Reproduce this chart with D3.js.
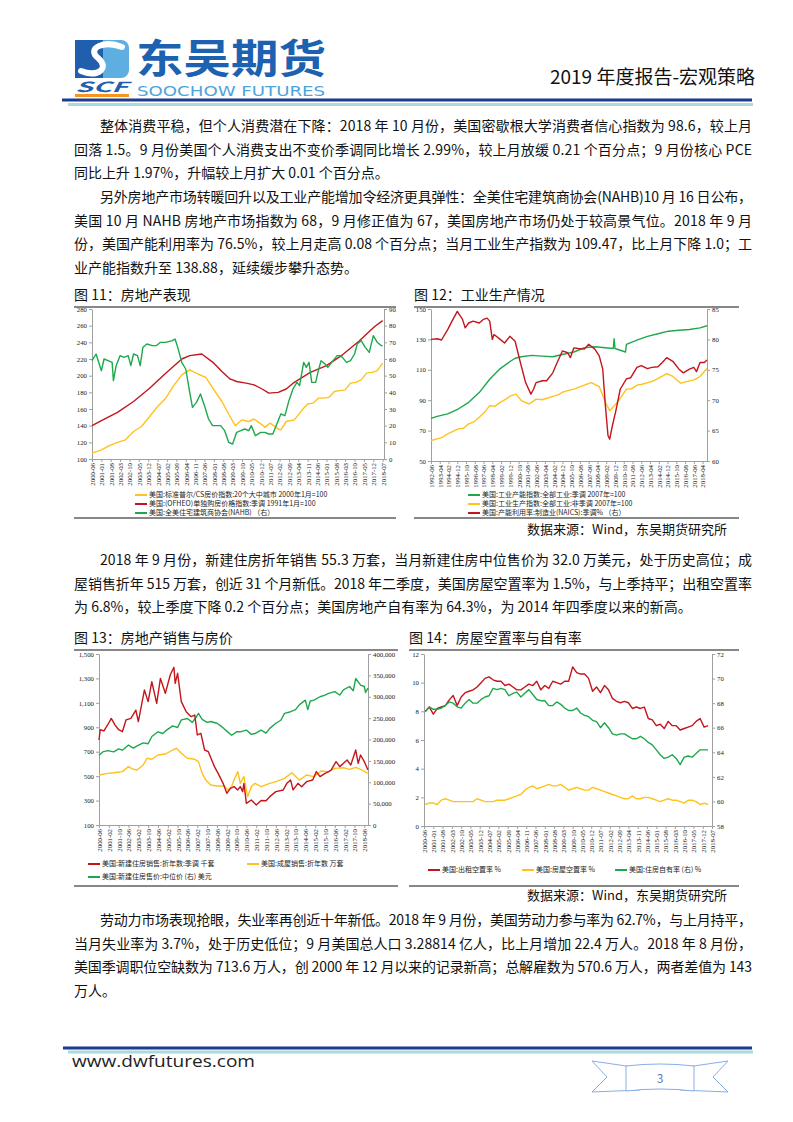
<!DOCTYPE html>
<html>
<head>
<meta charset="utf-8">
<script src="https://cdn.jsdelivr.net/npm/d3@7"></script>
<style>
  body { margin: 0; background: #fff; }
  svg { display: block; }
  text { font-family: "Noto Sans CJK SC", "Noto Sans", sans-serif; }
</style>
</head>
<body>
<svg id="page" width="793" height="1122"></svg>
<script>
// ── Text ─────────────────────────────────────────────────────────────────────

const para1 = [
  "整体消费平稳，但个人消费潜在下降：2018 年 10 月份，美国密歇根大学消费者信心指数为 98.6，较上月",
  "回落 1.5。9 月份美国个人消费支出不变价季调同比增长 2.99%，较上月放缓 0.21 个百分点；9 月份核心 PCE",
  "同比上升 1.97%，升幅较上月扩大 0.01 个百分点。",
];
const para2 = [
  "另外房地产市场转暖回升以及工业产能增加令经济更具弹性：全美住宅建筑商协会(NAHB)10 月 16 日公布，",
  "美国 10 月 NAHB 房地产市场指数为 68，9 月修正值为 67，美国房地产市场仍处于较高景气位。2018 年 9 月",
  "份，美国产能利用率为 76.5%，较上月走高 0.08 个百分点；当月工业生产指数为 109.47，比上月下降 1.0；工",
  "业产能指数升至 138.88，延续缓步攀升态势。",
];
const para3 = [
  "2018 年 9 月份，新建住房折年销售 55.3 万套，当月新建住房中位售价为 32.0 万美元，处于历史高位；成",
  "屋销售折年 515 万套，创近 31 个月新低。2018 年二季度，美国房屋空置率为 1.5%，与上季持平；出租空置率",
  "为 6.8%，较上季度下降 0.2 个百分点；美国房地产自有率为 64.3%，为 2014 年四季度以来的新高。",
];
const para4 = [
  "劳动力市场表现抢眼，失业率再创近十年新低。2018 年 9 月份，美国劳动力参与率为 62.7%，与上月持平，",
  "当月失业率为 3.7%，处于历史低位；9 月美国总人口 3.28814 亿人，比上月增加 22.4 万人。2018 年 8 月份，",
  "美国季调职位空缺数为 713.6 万人，创 2000 年 12 月以来的记录新高；总解雇数为 570.6 万人，两者差值为 143",
  "万人。",
];

// ── Figure 11: 房地产表现 ─────────────────────────────────────────────────────

const fig11Ticks = ["2000-06","2001-01","2001-08","2002-03","2002-10","2003-05","2003-12","2004-07","2005-02","2005-09","2006-04","2006-11","2007-06","2008-01","2008-08","2009-03","2009-10","2010-05","2010-12","2011-07","2012-02","2012-09","2013-04","2013-11","2014-06","2015-01","2015-08","2016-03","2016-10","2017-05","2017-12","2018-07"];
const fig11LeftTicks = [100, 120, 140, 160, 180, 200, 220, 240, 260, 280];
const fig11RightTicks = [0, 10, 20, 30, 40, 50, 60, 70, 80, 90];
const fig11Legend = [
  "美国:标准普尔/CS房价指数:20个大中城市 2000年1月=100",
  "美国:(OFHEO)单独购房价格指数:季调 1991年1月=100",
  "美国:全美住宅建筑商协会(NAHB) （右）",
];
const csIndex = [["2000-06",107],["2001-01",111],["2001-07",116],["2002-01",120],["2002-07",123],["2003-01",133],["2003-07",139],["2004-01",151],["2004-07",163],["2005-01",173],["2005-07",188],["2006-01",201],["2006-07",207],["2007-01",202],["2007-07",198],["2008-01",183],["2008-07",169],["2009-01",151],["2009-05",140],["2009-10",147],["2010-03",145],["2010-07",148],["2011-01",141],["2011-03",138],["2011-07",143],["2012-01",136],["2012-03",135],["2012-07",145],["2013-01",147],["2013-07",159],["2013-11",166],["2014-03",167],["2014-07",173],["2014-11",173],["2015-03",174],["2015-07",181],["2015-11",182],["2016-03",183],["2016-07",191],["2016-11",192],["2017-03",195],["2017-07",203],["2017-11",204],["2018-03",206],["2018-07",215]];
const ofheoIndex = [["2000-06",140],["2001-01",146],["2002-01",156],["2003-01",169],["2004-01",185],["2005-01",203],["2006-01",220],["2006-07",224],["2007-04",226],["2008-01",215],["2008-07",205],["2009-01",196],["2009-03",195],["2009-06",193],["2010-01",191],["2010-07",189],["2011-01",184],["2011-06",179],["2012-01",180],["2012-07",184],["2013-01",192],["2013-07",198],["2014-01",204],["2015-01",212],["2016-01",225],["2017-01",241],["2018-01",259],["2018-07",266]];
const nahbIndex = [["2000-06",59],["2000-09",63],["2001-01",53],["2001-03",60],["2001-06",59],["2001-09",58],["2001-10",47],["2001-12",56],["2002-03",62],["2002-06",61],["2002-09",62],["2002-11",56],["2003-01",63],["2003-04",62],["2003-06",56],["2003-08",67],["2003-11",69],["2004-03",68],["2004-06",68],["2004-09",70],["2005-01",70],["2005-06",71],["2005-08",72],["2005-10",67],["2006-01",58],["2006-04",54],["2006-07",40],["2006-09",31],["2006-12",34],["2007-03",39],["2007-06",32],["2007-09",24],["2007-12",20],["2008-03",20],["2008-06",20],["2008-09",17],["2008-12",10],["2009-03",9],["2009-06",16],["2009-09",17],["2009-12",18],["2010-03",17],["2010-05",20],["2010-08",14],["2010-12",16],["2011-03",16],["2011-06",15],["2011-09",15],["2011-12",21],["2012-03",27],["2012-06",26],["2012-09",35],["2012-12",42],["2013-03",46],["2013-05",44],["2013-08",58],["2013-10",55],["2013-12",58],["2014-02",46],["2014-05",46],["2014-07",53],["2014-09",59],["2014-12",57],["2015-02",55],["2015-06",59],["2015-09",62],["2015-11",62],["2016-01",61],["2016-04",58],["2016-07",59],["2016-10",63],["2016-12",69],["2017-03",71],["2017-06",67],["2017-09",64],["2017-12",74],["2018-03",70],["2018-06",68],["2018-07",68]];

// ── Figure 12: 工业生产情况 ───────────────────────────────────────────────────

const fig12Ticks = ["1992-06","1993-04","1994-02","1994-12","1995-10","1996-08","1997-06","1998-04","1999-02","1999-12","2000-10","2001-08","2002-06","2003-04","2004-02","2004-12","2005-10","2006-08","2007-06","2008-04","2009-02","2009-12","2010-10","2011-08","2012-06","2013-04","2014-02","2014-12","2015-10","2016-08","2017-06","2018-04"];
const fig12LeftTicks = [50, 70, 90, 110, 130, 150];
const fig12RightTicks = [60, 65, 70, 75, 80, 85];
const fig12Legend = [
  "美国:工业产能指数:全部工业:季调 2007年=100",
  "美国:工业生产指数:全部工业:非季调 2007年=100",
  "美国:产能利用率:制造业(NAICS):季调% （右）",
];
const capacityIndex = [["1992-06",78],["1993-01",79.4],["1994-01",81],["1995-01",84.2],["1996-01",88.6],["1997-01",95],["1998-01",103.8],["1999-01",110.8],["2000-01",115.8],["2000-07",117.8],["2001-01",118.6],["2002-01",119.5],["2003-01",119],["2004-01",118.6],["2005-01",120.2],["2006-01",121.7],["2007-01",124.5],["2008-01",125.2],["2009-01",124.5],["2009-10",124],["2009-11",130.4],["2009-12",124],["2010-12",121.7],["2011-01",126.7],["2012-01",129.5],["2013-01",132],["2014-01",133.7],["2015-01",135.4],["2016-01",136],["2017-01",136.5],["2018-01",137.6],["2018-09",139]];
const ipNsaIndex = [["1992-06",63.5],["1993-01",64.6],["1993-07",65.5],["1994-01",67.9],["1994-07",69.5],["1995-01",71.1],["1995-07",71.5],["1996-01",74.4],["1996-07",75.8],["1997-01",78.8],["1997-07",82],["1998-01",86.4],["1998-07",86],["1999-01",88.6],["1999-07",90.5],["2000-01",92.9],["2000-07",94],["2001-01",89.7],["2001-10",87.5],["2002-06",90.7],["2003-01",90.3],["2004-01",92.5],["2004-07",93.5],["2005-01",95.5],["2005-07",96.5],["2006-01",97.3],["2007-01",99.9],["2007-09",101.6],["2008-06",99],["2009-01",88.6],["2009-06",83.1],["2010-01",87.5],["2010-07",92],["2011-01",97.3],["2011-07",97.5],["2012-01",99.9],["2012-07",100.5],["2013-01",101.6],["2013-07",102.5],["2014-01",104.2],["2014-11",107.5],["2015-06",105.6],["2016-03",101.2],["2017-01",102.7],["2017-07",103.5],["2018-01",105.6],["2018-09",110.8]];
const capUtilMfg = [["1992-06",80],["1993-01",80.1],["1993-06",79.9],["1994-01",81.6],["1994-06",83],["1994-12",84.6],["1995-06",83.3],["1995-09",81.9],["1996-01",82.7],["1996-06",83],["1997-01",82.7],["1997-06",83.3],["1997-10",83.5],["1998-01",83],["1998-04",80],["1998-06",80.8],["1999-01",80],["1999-06",79.4],["1999-12",80.5],["2000-06",79.7],["2000-12",76.2],["2001-06",72.9],["2001-12",71],["2002-03",71.8],["2002-06",72.9],["2003-01",73.2],["2003-06",73.2],["2004-01",74.5],["2004-06",76.2],["2004-12",78.1],["2005-06",77.8],["2005-09",77],["2006-01",78.6],["2006-06",78.5],["2007-01",78.4],["2007-06",79.2],["2008-01",78.4],["2008-06",77.3],["2008-10",75.1],["2009-01",69.1],["2009-04",64.2],["2009-06",63.6],["2009-09",65.8],["2010-01",68.3],["2010-06",71.8],["2011-01",73.5],["2011-06",73.7],["2012-01",75.4],["2012-06",75.7],["2013-01",75.2],["2013-06",75.4],["2014-01",75.5],["2014-06",76.2],["2014-11",77],["2015-06",76.4],["2016-01",75.1],["2016-06",74.5],["2017-01",75.1],["2017-06",75.4],["2017-09",74.7],["2018-01",76.2],["2018-06",76.2],["2018-09",76.6]];

// ── Figure 13: 房地产销售与房价 ───────────────────────────────────────────────

const fig13Ticks = ["2000-06","2001-02","2001-10","2002-06","2003-02","2003-10","2004-06","2005-02","2005-10","2006-06","2007-02","2007-10","2008-06","2009-02","2009-10","2010-06","2011-02","2011-10","2012-06","2013-02","2013-10","2014-06","2015-02","2015-10","2016-06","2017-02","2017-10","2018-06"];
const fig13LeftTicks = [100, 300, 500, 700, 900, 1100, 1300, 1500];
const fig13RightTicks = [0, 50000, 100000, 150000, 200000, 250000, 300000, 350000, 400000];
const fig13Legend = [
  "美国:新建住房销售:折年数:季调 千套",
  "美国:成屋销售:折年数 万套",
  "美国:新建住房售价:中位价 (右) 美元",
];
const newHomeSales = [["2000-06",796],["2000-07",880],["2000-10",870],["2001-01",919],["2001-04",973],["2001-07",920],["2001-10",880],["2002-01",864],["2002-04",960],["2002-08",973],["2002-12",1040],["2003-02",946],["2003-07",1205],["2003-10",1110],["2004-01",1273],["2004-05",1096],["2004-08",1300],["2004-12",1178],["2005-04",1328],["2005-07",1391],["2005-08",1260],["2005-10",1342],["2006-01",1110],["2006-05",1028],["2006-09",987],["2006-12",1000],["2007-02",837],["2007-05",850],["2007-08",714],["2007-11",700],["2008-04",578],["2008-07",523],["2008-11",441],["2009-02",359],["2009-05",400],["2009-08",414],["2009-11",387],["2010-01",414],["2010-03",373],["2010-04",441],["2010-06",277],["2010-10",305],["2011-02",264],["2011-06",300],["2011-10",299],["2012-01",332],["2012-06",373],["2012-12",387],["2013-03",441],["2013-06",468],["2013-08",387],["2013-12",441],["2014-03",414],["2014-07",455],["2014-12",468],["2015-03",537],["2015-06",496],["2015-10",523],["2016-01",537],["2016-03",550],["2016-07",619],["2016-10",578],["2017-01",605],["2017-04",632],["2017-07",591],["2017-11",714],["2018-01",605],["2018-03",673],["2018-06",619],["2018-09",550]];
const existingSales = [["2000-06",509],["2001-01",523],["2001-06",528],["2002-01",537],["2002-06",578],["2002-09",560],["2003-01",550],["2003-06",591],["2003-09",646],["2004-01",638],["2004-06",673],["2004-12",681],["2005-06",714],["2005-09",728],["2006-01",687],["2006-06",646],["2006-12",638],["2007-03",619],["2007-06",523],["2007-09",468],["2008-01",427],["2008-06",419],["2008-12",419],["2009-03",387],["2009-06",414],["2009-08",470],["2009-11",537],["2010-01",441],["2010-04",496],["2010-07",332],["2010-10",414],["2011-01",441],["2011-06",414],["2012-01",441],["2012-06",455],["2013-01",482],["2013-07",528],["2014-01",468],["2014-07",509],["2015-01",496],["2015-07",542],["2016-01",537],["2016-06",564],["2017-01",569],["2017-06",556],["2017-11",572],["2018-03",556],["2018-09",523]];
const newHomePrice = [["2000-06",163000],["2000-09",171000],["2001-01",174000],["2001-06",171000],["2001-10",178000],["2002-01",175000],["2002-06",187000],["2002-10",180000],["2003-01",185000],["2003-06",192000],["2003-10",190000],["2004-01",207000],["2004-06",218000],["2004-10",214000],["2005-01",222000],["2005-06",232000],["2005-10",228000],["2006-01",246000],["2006-06",249000],["2006-10",240000],["2007-01",252000],["2007-03",261000],["2007-06",247000],["2007-10",240000],["2008-01",242000],["2008-06",238000],["2008-10",230000],["2009-01",222000],["2009-06",210000],["2009-10",218000],["2010-01",218000],["2010-06",222000],["2010-10",212000],["2011-01",214000],["2011-06",222000],["2011-10",215000],["2012-01",226000],["2012-06",238000],["2012-10",245000],["2013-01",261000],["2013-06",265000],["2013-10",270000],["2014-01",281000],["2014-06",292000],["2014-08",270000],["2014-10",290000],["2015-01",292000],["2015-06",300000],["2015-10",304000],["2016-01",308000],["2016-06",312000],["2016-10",304000],["2017-01",316000],["2017-06",324000],["2017-09",314000],["2017-11",343000],["2018-03",327000],["2018-06",324000],["2018-07",310000],["2018-09",320000]];

// ── Figure 14: 房屋空置率与自有率 (quarterly, 2000Q2 - 2018Q2) ───────────────

const fig14Ticks = fig11Ticks;
const fig14LeftTicks = [0, 2, 4, 6, 8, 10, 12];
const fig14RightTicks = [58, 60, 62, 64, 66, 68, 70, 72];
const fig14Legend = ["美国:出租空置率 %", "美国:房屋空置率 %", "美国:住房自有率 (右) %"];
const rentalVacancy = [8.0,8.3,7.8,8.2,8.3,8.4,8.8,9.1,8.4,9.0,9.3,9.4,9.5,9.7,10.0,10.3,10.4,10.2,10.1,10.1,9.8,9.9,9.7,9.5,9.5,9.7,9.9,9.8,10.1,9.5,9.8,9.6,10.1,10.0,9.9,10.1,10.1,11.1,10.7,10.6,10.6,10.3,9.4,9.7,9.3,9.8,9.5,8.9,8.7,8.6,8.7,8.6,8.2,8.3,8.2,8.3,7.5,7.4,7.0,7.1,6.8,7.3,7.0,7.0,6.7,6.8,6.9,7.0,7.3,7.5,6.9,7.0,6.8];
const homeVacancy = [1.5,1.6,1.6,1.5,1.8,1.9,1.8,1.7,1.7,1.7,1.7,1.7,1.7,1.9,1.8,1.7,1.7,1.7,1.8,1.8,1.8,1.9,2.0,2.1,2.2,2.5,2.7,2.8,2.6,2.7,2.8,2.9,2.8,2.8,2.9,2.7,2.5,2.6,2.7,2.6,2.5,2.5,2.7,2.6,2.5,2.4,2.3,2.2,2.1,2.0,1.9,1.9,2.1,1.9,1.9,2.0,2.0,1.9,1.8,1.7,1.8,1.9,1.8,1.8,1.7,1.6,1.8,1.8,1.7,1.5,1.6,1.5,1.5];
const homeOwnership = [67.3,67.7,67.5,67.5,67.6,67.8,68.1,68.0,67.7,67.6,68.0,68.3,68.0,68.0,68.3,68.5,68.6,69.2,69.1,69.2,69.1,68.6,68.8,68.9,68.5,68.8,69.1,68.7,68.3,68.2,68.2,67.8,67.8,68.1,67.9,67.6,67.4,67.4,67.6,67.2,67.0,66.9,66.6,66.5,66.0,66.4,66.0,65.5,65.4,65.5,65.5,65.3,65.1,65.1,65.3,65.1,64.8,64.6,64.2,63.8,63.5,63.6,63.8,63.5,63.0,63.6,63.7,63.6,63.9,64.2,64.2,64.2,64.3];

// ── Setup ────────────────────────────────────────────────────────────────────

const RED = "#c3161c";
const YELLOW = "#ffc21a";
const GREEN = "#1ea84c";
const NAVY = "#1d3b8f";
const TEAL = "#a9dbd8";

const svg = d3.select("#page");
const parseMonth = d3.timeParse("%Y-%m");
const monthFmt = d3.timeFormat("%Y-%m");

// ── Header ───────────────────────────────────────────────────────────────────

function drawHeader() {
  const logo = svg.append("g");
  logo.append("rect").attr("x", 75).attr("y", 40).attr("width", 28).attr("height", 38).attr("fill", "#1f5fae");
  logo.append("path").attr("d", "M103,40 h18 a8,8 0 0 1 8,8 v22 a8,8 0 0 1 -8,8 h-18 z").attr("fill", "#5eaee2");
  logo.append("path")
    .attr("d", "M122,47 C104,40 86,48 98,58 C110,68 98,78 81,71")
    .attr("fill", "none").attr("stroke", "#fff").attr("stroke-width", 6).attr("stroke-linecap", "round");
  logo.append("text").attr("x", 75).attr("y", 92).attr("textLength", 53).attr("lengthAdjust", "spacingAndGlyphs")
    .attr("font-size", 14).attr("font-weight", 700).attr("font-style", "italic").attr("fill", "#1f5fae").text("SCF");
  logo.append("rect").attr("x", 75).attr("y", 94).attr("width", 54).attr("height", 3).attr("fill", "#f7941d");

  svg.append("text").attr("x", 136).attr("y", 73).attr("textLength", 190).attr("lengthAdjust", "spacingAndGlyphs")
    .attr("font-size", 40).attr("font-weight", 700).attr("fill", "#1d62b0").text("东吴期货");
  svg.append("text").attr("x", 137).attr("y", 96).attr("textLength", 188).attr("lengthAdjust", "spacingAndGlyphs")
    .attr("font-size", 14).attr("fill", "#4ea4dc").style("font-family", "'DejaVu Sans Condensed', 'Liberation Sans Narrow', sans-serif")
    .text("SOOCHOW FUTURES");

  svg.append("text").attr("x", 755).attr("y", 84).attr("text-anchor", "end")
    .attr("font-size", 19).attr("fill", "#111").text("2019 年度报告-宏观策略");

  svg.append("line").attr("x1", 62).attr("x2", 752).attr("y1", 100).attr("y2", 100).attr("stroke", NAVY).attr("stroke-width", 3);
  svg.append("line").attr("x1", 68).attr("x2", 753).attr("y1", 104.5).attr("y2", 104.5).attr("stroke", TEAL).attr("stroke-width", 3);
}

// ── Footer ───────────────────────────────────────────────────────────────────

function drawFooter() {
  svg.append("line").attr("x1", 63).attr("x2", 752).attr("y1", 1048).attr("y2", 1048).attr("stroke", NAVY).attr("stroke-width", 3);
  svg.append("line").attr("x1", 68).attr("x2", 753).attr("y1", 1052).attr("y2", 1052).attr("stroke", TEAL).attr("stroke-width", 3);
  svg.append("text").attr("x", 72).attr("y", 1067).attr("textLength", 183).attr("lengthAdjust", "spacingAndGlyphs")
    .attr("font-size", 17).attr("fill", "#222").style("font-family", "'Open Sans', sans-serif").text("www.dwfutures.com");

  const rib = svg.append("g").attr("fill", "#fff").attr("stroke", "#86aee6").attr("stroke-width", 1);
  rib.append("path").attr("d", "M592,1061 L640,1068 L640,1090 L592,1092 L607,1077 Z");
  rib.append("path").attr("d", "M728,1061 L680,1068 L680,1090 L728,1092 L713,1077 Z");
  rib.append("path").attr("d", "M626,1066 Q660,1062 694,1066 L694,1091 Q660,1087 626,1091 Z");
  svg.append("text").attr("x", 660).attr("y", 1083).attr("text-anchor", "middle")
    .attr("font-size", 12).attr("fill", "#5a7db5").text("3");
}

// ── Paragraphs ───────────────────────────────────────────────────────────────

function drawParagraph(lines, y0) {
  const lineGap = 23.7;
  lines.forEach((line, i) => {
    const isFirst = i === 0;
    const isLast = i === lines.length - 1;
    const x = isFirst ? 100 : 74;
    const t = svg.append("text").attr("x", x).attr("y", y0 + i * lineGap)
      .attr("font-size", 14).attr("fill", "#111").text(line);
    if (!isLast) t.attr("textLength", 752 - x).attr("lengthAdjust", "spacing");
  });
}

// ── Figure frames ────────────────────────────────────────────────────────────

function drawFrame(title, x1, x2, titleY, bottomY) {
  svg.append("text").attr("x", x1).attr("y", titleY).attr("font-size", 14).attr("fill", "#111").text(title);
  svg.append("line").attr("x1", x1).attr("x2", x2).attr("y1", titleY + 7).attr("y2", titleY + 7).attr("stroke", "#111").attr("stroke-width", 1.2);
  svg.append("line").attr("x1", x1).attr("x2", x2).attr("y1", bottomY).attr("y2", bottomY).attr("stroke", "#111").attr("stroke-width", 1.2);
}

function drawSource(y) {
  svg.append("text").attr("x", 727).attr("y", y).attr("text-anchor", "end")
    .attr("font-size", 13).attr("fill", "#111").text("数据来源：Wind，东吴期货研究所");
}

// ── Line chart ───────────────────────────────────────────────────────────────

function drawLineChart(cfg) {
  const g = svg.append("g");
  const x = d3.scaleTime().domain([parseMonth(cfg.xStart), parseMonth(cfg.xEnd)]).range([cfg.left, cfg.right]);
  const yL = d3.scaleLinear().domain(cfg.yLeft).range([cfg.bottom, cfg.top]);
  const yR = d3.scaleLinear().domain(cfg.yRight).range([cfg.bottom, cfg.top]);

  g.append("g").attr("transform", `translate(${cfg.left},0)`)
    .call(d3.axisLeft(yL).tickValues(cfg.leftTicks).tickFormat(cfg.fmtL).tickSize(3).tickSizeOuter(0).tickPadding(2));
  g.append("g").attr("transform", `translate(${cfg.right},0)`)
    .call(d3.axisRight(yR).tickValues(cfg.rightTicks).tickFormat(cfg.fmtR).tickSize(3).tickSizeOuter(0).tickPadding(2));
  const xAxis = g.append("g").attr("transform", `translate(0,${cfg.bottom})`)
    .call(d3.axisBottom(x).tickValues(cfg.xTicks.map(parseMonth)).tickFormat(monthFmt).tickSize(3).tickSizeOuter(0));
  xAxis.selectAll("text")
    .attr("transform", "rotate(-90)").attr("x", -4).attr("y", 0).attr("dy", "0.35em")
    .style("text-anchor", "end");

  g.selectAll(".domain, .tick line").attr("stroke", "#a0a0a0");
  g.selectAll(".tick text").attr("fill", "#222")
    .style("font-family", "'Liberation Serif', serif").style("font-size", "6.8px");

  // series
  for (const s of cfg.series) {
    const y = s.axis === "right" ? yR : yL;
    const line = d3.line()
      .x((d) => x(d[0]))
      .y((d) => y(d[1]));
    g.append("path")
      .datum(s.data)
      .attr("fill", "none")
      .attr("stroke", s.color)
      .attr("stroke-width", 1.4)
      .attr("stroke-linejoin", "round")
      .attr("d", line);
  }

  // legend
  for (const item of cfg.legend) {
    g.append("line").attr("x1", item.x).attr("x2", item.x + 12).attr("y1", item.y).attr("y2", item.y)
      .attr("stroke", item.color).attr("stroke-width", 2);
    g.append("text").attr("x", item.x + 14).attr("y", item.y).attr("dy", "0.35em")
      .attr("font-size", 7).attr("fill", "#222").text(item.label);
  }
}

const monthly = (arr) => arr.map((d) => [parseMonth(d[0]), d[1]]);
const fig14Quarters = d3.timeMonth.every(3).range(new Date(2000, 5, 1), new Date(2018, 6, 1));
const quarterly = (vals) => vals.map((v, i) => [fig14Quarters[i], v]);

// ── Render ───────────────────────────────────────────────────────────────────

drawHeader();
drawParagraph(para1, 131);
drawParagraph(para2, 202);

drawFrame("图 11：房地产表现", 74, 396, 300, 518);
drawFrame("图 12：工业生产情况", 414, 739, 300, 518);

drawLineChart({
  left: 92, right: 384, top: 309, bottom: 459,
  xStart: "2000-06", xEnd: "2018-08", xTicks: fig11Ticks,
  yLeft: [100, 280], leftTicks: fig11LeftTicks, fmtL: d3.format("d"),
  yRight: [0, 90], rightTicks: fig11RightTicks, fmtR: d3.format("d"),
  series: [
    { data: monthly(csIndex), axis: "left", color: YELLOW },
    { data: monthly(ofheoIndex), axis: "left", color: RED },
    { data: monthly(nahbIndex), axis: "right", color: GREEN },
  ],
  legend: [
    { label: fig11Legend[0], color: YELLOW, x: 135, y: 495 },
    { label: fig11Legend[1], color: RED, x: 135, y: 504 },
    { label: fig11Legend[2], color: GREEN, x: 135, y: 513 },
  ],
});

drawLineChart({
  left: 431, right: 707, top: 309, bottom: 461,
  xStart: "1992-06", xEnd: "2018-09", xTicks: fig12Ticks,
  yLeft: [50, 150], leftTicks: fig12LeftTicks, fmtL: d3.format("d"),
  yRight: [60, 85], rightTicks: fig12RightTicks, fmtR: d3.format("d"),
  series: [
    { data: monthly(capacityIndex), axis: "left", color: GREEN },
    { data: monthly(ipNsaIndex), axis: "left", color: YELLOW },
    { data: monthly(capUtilMfg), axis: "right", color: RED },
  ],
  legend: [
    { label: fig12Legend[0], color: GREEN, x: 468, y: 495 },
    { label: fig12Legend[1], color: YELLOW, x: 468, y: 504 },
    { label: fig12Legend[2], color: RED, x: 468, y: 513 },
  ],
});

drawSource(534);
drawParagraph(para3, 565);

drawFrame("图 13：房地产销售与房价", 74, 398, 643, 886);
drawFrame("图 14：房屋空置率与自有率", 409, 739, 643, 886);

drawLineChart({
  left: 99, right: 368, top: 654, bottom: 825,
  xStart: "2000-06", xEnd: "2018-09", xTicks: fig13Ticks,
  yLeft: [100, 1500], leftTicks: fig13LeftTicks, fmtL: d3.format(","),
  yRight: [0, 400000], rightTicks: fig13RightTicks, fmtR: d3.format(","),
  series: [
    { data: monthly(newHomePrice), axis: "right", color: GREEN },
    { data: monthly(existingSales), axis: "left", color: YELLOW },
    { data: monthly(newHomeSales), axis: "left", color: RED },
  ],
  legend: [
    { label: fig13Legend[0], color: RED, x: 88, y: 864 },
    { label: fig13Legend[1], color: YELLOW, x: 247, y: 864 },
    { label: fig13Legend[2], color: GREEN, x: 88, y: 877 },
  ],
});

drawLineChart({
  left: 424, right: 712, top: 654, bottom: 826,
  xStart: "2000-06", xEnd: "2018-07", xTicks: fig14Ticks,
  yLeft: [0, 12], leftTicks: fig14LeftTicks, fmtL: d3.format("d"),
  yRight: [58, 72], rightTicks: fig14RightTicks, fmtR: d3.format("d"),
  series: [
    { data: quarterly(rentalVacancy), axis: "left", color: RED },
    { data: quarterly(homeVacancy), axis: "left", color: YELLOW },
    { data: quarterly(homeOwnership), axis: "right", color: GREEN },
  ],
  legend: [
    { label: fig14Legend[0], color: RED, x: 428, y: 870 },
    { label: fig14Legend[1], color: YELLOW, x: 522, y: 870 },
    { label: fig14Legend[2], color: GREEN, x: 615, y: 870 },
  ],
});

drawSource(900);
drawParagraph(para4, 925);
drawFooter();
</script>
</body>
</html>
